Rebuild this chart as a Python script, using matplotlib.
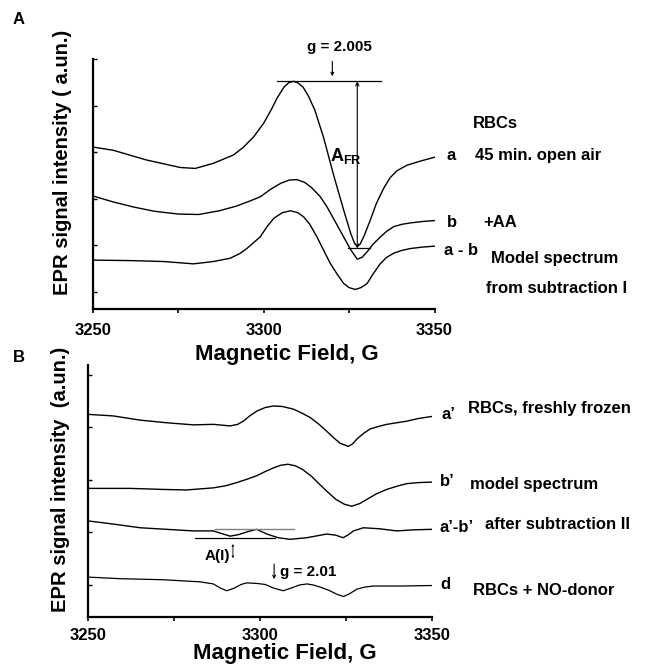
import numpy as np
import matplotlib
matplotlib.use('Agg')
import matplotlib.pyplot as plt

plt.rcParams['font.family'] = ['Liberation Sans', 'DejaVu Sans']
plt.rcParams['font.weight'] = 'bold'
plt.rcParams['mathtext.fontset'] = 'custom'
plt.rcParams['mathtext.rm'] = 'Liberation Sans'
plt.rcParams['mathtext.bf'] = 'Liberation Sans:bold'

# ---- panel A spectra (field in G, intensity in a.un.) ----
field_a = [3250, 3256.0, 3265.8, 3275.6, 3280.0, 3285.3, 3291.2, 3294, 3297.1, 3300,
           3302, 3304, 3306, 3307.5, 3308.8, 3310, 3311.5, 3313, 3315, 3317.6,
           3320.5, 3323.4, 3325.5, 3326.6, 3327.4, 3328.3, 3329.5, 3331, 3333, 3335.1,
           3337, 3339, 3342, 3346, 3350]
sig_a = [3.11, 3.04, 2.83, 2.67, 2.65, 2.76, 2.94, 3.10, 3.33, 3.62,
         3.88, 4.17, 4.40, 4.50, 4.52, 4.49, 4.40, 4.22, 3.90, 3.30,
         2.50, 1.76, 1.25, 1.04, 0.97, 1.03, 1.22, 1.50, 1.90, 2.22,
         2.45, 2.60, 2.72, 2.81, 2.89]

field_b = [3250, 3256, 3262, 3268, 3275, 3281, 3287, 3292, 3296, 3299,
           3302, 3305, 3307.5, 3309.7, 3312, 3314, 3316.5, 3318.5, 3321, 3323.4,
           3325.5, 3327.4, 3328.8, 3330.3, 3332, 3334.2, 3336, 3338.1, 3340.5, 3343,
           3346.5, 3350]
sig_b = [2.06, 1.93, 1.82, 1.73, 1.67, 1.66, 1.74, 1.84, 1.95, 2.04,
         2.20, 2.33, 2.40, 2.41, 2.35, 2.24, 2.05, 1.83, 1.50, 1.18,
         0.90, 0.70, 0.74, 0.86, 1.02, 1.18, 1.30, 1.40, 1.45, 1.48,
         1.51, 1.53]

field_ab = [3250, 3261.0, 3270.7, 3279.5, 3285.3, 3290.2, 3293, 3295.1, 3297, 3299,
            3301, 3303, 3305.5, 3307.8, 3310, 3311.7, 3313.5, 3315.6, 3317.5, 3319.5,
            3321.5, 3323.4, 3325, 3326.8, 3328.5, 3330.3, 3332, 3334.2, 3336, 3338.1,
            3340.5, 3343, 3346.5, 3350]
sig_ab = [0.68, 0.67, 0.65, 0.60, 0.65, 0.72, 0.82, 0.93, 1.05, 1.18,
          1.40, 1.58, 1.70, 1.74, 1.70, 1.61, 1.45, 1.18, 0.90, 0.61,
          0.38, 0.18, 0.09, 0.05, 0.09, 0.18, 0.38, 0.61, 0.74, 0.83,
          0.89, 0.93, 0.96, 0.98]

# ---- panel B spectra ----
field_a2 = [3250, 3257.3, 3265.1, 3272.8, 3280.6, 3286.4, 3291.3, 3293.5, 3295.1, 3297,
            3299, 3301.5, 3303.9, 3306.5, 3309.7, 3312, 3314.6, 3317, 3319.4, 3321.5,
            3323.3, 3325.7, 3327, 3328.2, 3330, 3332, 3334.5, 3336.9, 3342.7, 3346,
            3350]
sig_a2 = [3.25, 3.22, 3.14, 3.09, 3.05, 3.06, 3.03, 3.06, 3.12, 3.22,
          3.31, 3.38, 3.41, 3.40, 3.35, 3.28, 3.19, 3.07, 2.93, 2.80,
          2.70, 2.64, 2.69, 2.78, 2.88, 2.97, 3.02, 3.06, 3.12, 3.17,
          3.21]

field_b2 = [3250, 3262.1, 3271.8, 3278.6, 3286.4, 3290, 3293.2, 3296, 3299, 3301.5,
            3303.9, 3306, 3308.1, 3310.3, 3312.4, 3315, 3317.3, 3319.7, 3322.1, 3324.5,
            3326.7, 3329, 3331.1, 3334, 3336.9, 3339.8, 3342.7, 3346, 3350]
sig_b2 = [1.84, 1.84, 1.82, 1.81, 1.85, 1.89, 1.95, 2.01, 2.08, 2.16,
          2.23, 2.28, 2.30, 2.27, 2.20, 2.07, 1.92, 1.77, 1.63, 1.54,
          1.50, 1.55, 1.63, 1.74, 1.82, 1.88, 1.93, 1.95, 1.96]

field_ab2 = [3250, 3257.3, 3265.1, 3272.8, 3280.6, 3286.4, 3288.8, 3291.3, 3293.8, 3296.1,
             3299.0, 3302.0, 3305.3, 3308.7, 3313.6, 3319.4, 3322, 3324.2, 3325.8, 3327.2,
             3330.1, 3334.9, 3339.8, 3344.6, 3350]
sig_ab2 = [1.22, 1.16, 1.09, 1.06, 1.03, 1.03, 0.98, 0.93, 0.96, 1.01,
           1.06, 0.97, 0.90, 0.87, 0.90, 0.97, 0.95, 0.90, 0.96, 1.03,
           1.09, 1.07, 1.03, 1.05, 1.06]

field_d = [3250, 3259.2, 3271.8, 3282.5, 3286.4, 3288.5, 3290.3, 3292.5, 3294.5, 3296.1,
           3299, 3301.5, 3304, 3306.8, 3309, 3311.5, 3313.7, 3315.5, 3317.5, 3320,
           3322.5, 3324.3, 3326, 3328.2, 3330.5, 3333, 3340.8, 3350]
sig_d = [0.15, 0.12, 0.10, 0.06, 0.02, -0.06, -0.11, -0.06, 0.01, 0.04,
         0.03, 0.01, -0.06, -0.11, -0.06, 0.00, 0.02, 0.00, -0.04, -0.10,
         -0.18, -0.22, -0.17, -0.08, -0.04, -0.02, -0.02, -0.01]

fig = plt.figure(figsize=(6.47, 6.70), dpi=100)
axA = fig.add_axes([0.1433, 0.5388, 0.5283, 0.3731])
axB = fig.add_axes([0.1365, 0.0791, 0.5308, 0.3761])


def style(ax, ylo, yhi, nt, pad):
    for s in ['top', 'right']:
        ax.spines[s].set_visible(False)
    for s in ['left', 'bottom']:
        ax.spines[s].set_linewidth(1.6)
    ax.set_xlim(3250, 3350)
    ax.set_ylim(ylo, yhi)
    ax.set_xticks([3250, 3300, 3350])
    ax.set_xticks([3275, 3325], minor=True)
    ax.set_yticks(range(nt))
    ax.set_yticklabels([])
    ax.tick_params(axis='x', which='both', direction='out', length=3, width=1.2,
                   labelsize=12, pad=pad)
    ax.tick_params(axis='y', direction='in', length=3, width=1.0)
    for t in ax.get_xticklabels():
        t.set_fontweight('bold')
    ax.set_xlabel('Magnetic Field, G', fontsize=16, fontweight='bold')


# ---------------- panel A ----------------
style(axA, -0.37, 5.0, 6, 7)
for f, s in [(field_a, sig_a), (field_b, sig_b), (field_ab, sig_ab)]:
    axA.plot(f, s, color='black', lw=1.0)
axA.set_ylabel('EPR signal intensity ( a.un.)', fontsize=14.5, fontweight='bold')
axA.yaxis.set_label_coords(-0.061, 0.588)
axA.xaxis.set_label_coords(0.567, -0.14)

axA.plot([3303.9, 3334.4], [4.52, 4.52], color='black', lw=0.9, clip_on=False)
axA.plot([3324.6, 3331.2], [0.93, 0.93], color='black', lw=0.9)
axA.annotate('', xy=(3327.4, 0.93), xytext=(3327.4, 4.52),
             arrowprops=dict(arrowstyle='<->', lw=0.8, color='black',
                             shrinkA=0, shrinkB=0, mutation_scale=6))
axA.annotate('', xy=(3320.1, 4.63), xytext=(3320.1, 4.95),
             arrowprops=dict(arrowstyle='->', lw=0.8, color='black',
                             shrinkA=0, shrinkB=0, mutation_scale=5),
             annotation_clip=False)
axA.text(3322.2, 5.25, 'g = 2.005', fontsize=11, fontweight='bold',
         ha='center', va='center', clip_on=False)
axA.text(3319.5, 2.91, r'$\mathbf{A}_{\mathrm{FR}}$', fontsize=13,
         ha='left', va='center')

labels_A = [(3361.3, 3.62, 'RBCs'), (3353.5, 2.92, 'a'), (3361.7, 2.92, '45 min. open air'),
            (3353.7, 1.48, 'b'), (3364.3, 1.48, '+AA'), (3352.9, 0.88, 'a - b'),
            (3366.6, 0.72, 'Model spectrum'), (3365.2, 0.08, 'from subtraction I')]
for x, y, t in labels_A:
    axA.text(x, y, t, fontsize=12, fontweight='bold', ha='left', va='center',
             clip_on=False)

# ---------------- panel B ----------------
style(axB, -0.61, 4.19, 5, 5)
for f, s in [(field_a2, sig_a2), (field_b2, sig_b2), (field_ab2, sig_ab2)]:
    axB.plot(f, s, color='black', lw=1.0)
axB.plot(field_d, sig_d, color='black', lw=0.9)
axB.set_ylabel('EPR signal intensity  (a.un.)', fontsize=14.5, fontweight='bold')
axB.yaxis.set_label_coords(-0.053, 0.545)
axB.xaxis.set_label_coords(0.573, -0.103)

axB.plot([3286.9, 3310.0], [1.07, 1.07], color='#808080', lw=1.0)
axB.plot([3281.1, 3304.4], [0.90, 0.90], color='black', lw=0.9)
axB.annotate('', xy=(3292.1, 0.51), xytext=(3292.1, 0.78),
             arrowprops=dict(arrowstyle='<->', lw=0.6, color='black',
                             shrinkA=0, shrinkB=0, mutation_scale=3))
axB.text(3284.0, 0.55, 'A(I)', fontsize=11, fontweight='bold', ha='left', va='center')
axB.annotate('', xy=(3304.1, 0.11), xytext=(3304.1, 0.40),
             arrowprops=dict(arrowstyle='->', lw=0.8, color='black',
                             shrinkA=0, shrinkB=0, mutation_scale=5))
axB.text(3305.8, 0.24, 'g = 2.01', fontsize=11, fontweight='bold', ha='left', va='center')

labels_B = [(3352.9, 3.25, 'a\u2019'), (3360.7, 3.36, 'RBCs, freshly frozen'),
            (3352.4, 1.98, 'b\u2019'), (3361.2, 1.92, 'model spectrum'),
            (3352.4, 1.09, 'a\u2019-b\u2019'), (3365.5, 1.16, 'after subtraction II'),
            (3352.4, 0.01, 'd'), (3362.1, -0.11, 'RBCs + NO-donor')]
for x, y, t in labels_B:
    axB.text(x, y, t, fontsize=12, fontweight='bold', ha='left', va='center',
             clip_on=False)

fig.text(13 / 647, 1 - 20 / 670, 'A', fontsize=12, fontweight='bold', ha='left', va='center')
fig.text(13 / 647, 1 - 357 / 670, 'B', fontsize=12, fontweight='bold', ha='left', va='center')

fig.savefig('out.png', dpi=100)
